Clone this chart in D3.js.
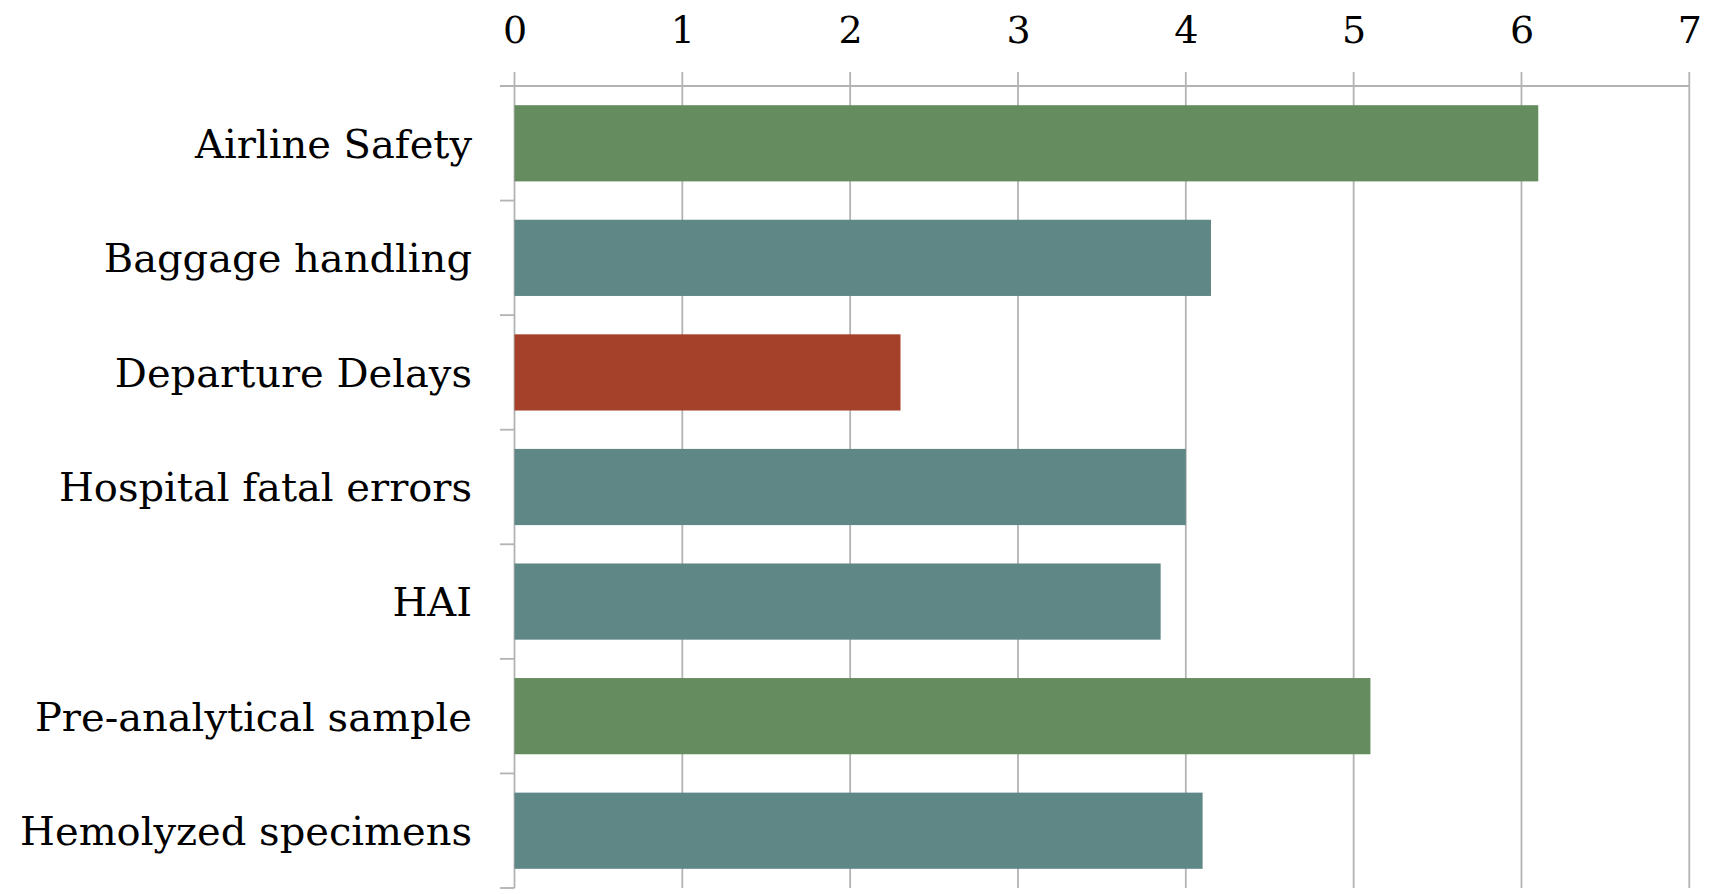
<!DOCTYPE html>
<html>
<head>
<meta charset="utf-8">
<script src="https://cdn.jsdelivr.net/npm/d3@7"></script>
<style>
  html, body { margin: 0; padding: 0; background: #ffffff; }
  svg { display: block; }
  .lbl { font-family: "DejaVu Serif", "Liberation Serif", serif; fill: #000; }
</style>
</head>
<body>
<svg id="chart" width="1710" height="894"></svg>
<script>
// Categories, top to bottom
const categories = [
  "Airline Safety",
  "Baggage handling",
  "Departure Delays",
  "Hospital fatal errors",
  "HAI",
  "Pre-analytical sample",
  "Hemolyzed specimens"
];
// Sigma level per category
const values = [6.1, 4.15, 2.3, 4.0, 3.85, 5.1, 4.1];
// Performance group per category (drives bar colour)
const groups = ["good", "mid", "poor", "mid", "mid", "good", "mid"];
const tickValues = [0, 1, 2, 3, 4, 5, 6, 7];

const palette = { good: "#658c5e", mid: "#5f8786", poor: "#a5412b" };

const svg = d3.select("#chart");
const plotLeft = 514.5, plotRight = 1689.3, plotTop = 86, plotBottom = 888;

const x = d3.scaleLinear().domain([0, 7]).range([plotLeft, plotRight]);
const y = d3.scaleBand().domain(categories).range([plotTop, plotBottom])
  .paddingInner(0.335).paddingOuter(0.1675);

const gridColor = "#b3b3b3";
const gridWidth = 1.8;

// vertical gridlines (extend a little above the top axis line)
svg.append("g").selectAll("line").data(tickValues).join("line")
  .attr("x1", d => x(d)).attr("x2", d => x(d))
  .attr("y1", plotTop - 14).attr("y2", plotBottom)
  .attr("stroke", gridColor).attr("stroke-width", gridWidth);

// top axis line, reaching slightly left of the value axis origin
svg.append("line")
  .attr("x1", plotLeft - 14.5).attr("x2", plotRight)
  .attr("y1", plotTop).attr("y2", plotTop)
  .attr("stroke", gridColor).attr("stroke-width", gridWidth);

// category boundary ticks on the left axis
const bounds = categories.map(c => y(c) - y.step() * y.paddingInner() / 2)
  .concat([plotBottom]);
svg.append("g").selectAll("line").data(bounds).join("line")
  .attr("x1", plotLeft - 14.5).attr("x2", plotLeft)
  .attr("y1", d => d).attr("y2", d => d)
  .attr("stroke", gridColor).attr("stroke-width", gridWidth);

// bars
svg.append("g").selectAll("rect").data(categories).join("rect")
  .attr("x", x(0))
  .attr("y", d => y(d))
  .attr("width", (d, i) => x(values[i]) - x(0))
  .attr("height", y.bandwidth())
  .attr("fill", (d, i) => palette[groups[i]]);

// tick labels along the top
const xAxis = d3.axisTop(x).tickValues(tickValues).tickFormat(d3.format("d"))
  .tickSize(0).tickPadding(0);
const gx = svg.append("g").attr("transform", `translate(0,${plotTop - 43})`).call(xAxis);
gx.select(".domain").remove();
gx.selectAll("text")
  .attr("class", "lbl")
  .attr("dy", 0)
  .style("font-size", "38px")
  .style("font-family", "'DejaVu Serif', 'Liberation Serif', serif")
  .attr("fill", "#000");

// category labels
svg.append("g").selectAll("text").data(categories).join("text")
  .attr("class", "lbl")
  .attr("x", 472)
  .attr("y", d => y(d) + y.bandwidth() / 2)
  .attr("dy", "0.36em")
  .attr("text-anchor", "end")
  .style("font-size", "40px")
  .text(d => d);
</script>
</body>
</html>
